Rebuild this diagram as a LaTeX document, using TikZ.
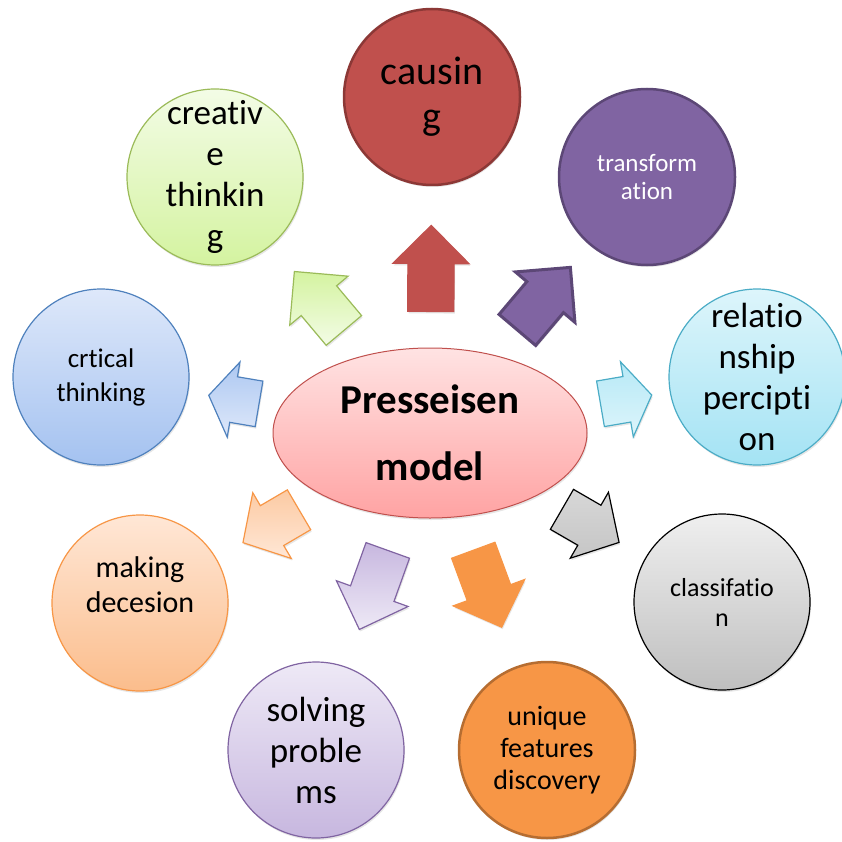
\documentclass[tikz,border=0pt]{standalone}
\usepackage{fontspec}
\setmainfont{Carlito}[RawFeature={-liga;-clig;-calt;-dlig}]
\usetikzlibrary{shapes.geometric,shapes.arrows,shadows}

\definecolor{modeltop}{HTML}{FFE3E3}
\definecolor{modelbot}{HTML}{FFA3A3}
\definecolor{modelline}{HTML}{C0504D}
\definecolor{causingred}{HTML}{C0504D}
\definecolor{causingline}{HTML}{8C3836}
\definecolor{transpurple}{HTML}{8064A2}
\definecolor{transline}{HTML}{5C4776}
\definecolor{reltop}{HTML}{DDF5FB}
\definecolor{relbot}{HTML}{A4E3F4}
\definecolor{relline}{HTML}{4BACC6}
\definecolor{classtop}{HTML}{EFEFEF}
\definecolor{classbot}{HTML}{BFBFBF}
\definecolor{uniqueorange}{HTML}{F79646}
\definecolor{uniqueline}{HTML}{B66D31}
\definecolor{solvtop}{HTML}{EEE9F6}
\definecolor{solvbot}{HTML}{C7B7DF}
\definecolor{maketop}{HTML}{FFE7D6}
\definecolor{makebot}{HTML}{FBBD8C}
\definecolor{crittop}{HTML}{DEE8FA}
\definecolor{critbot}{HTML}{A4C2F0}
\definecolor{critline}{HTML}{4F81BD}
\definecolor{creatop}{HTML}{F3FCE6}
\definecolor{creabot}{HTML}{D4F3A0}
\definecolor{crealine}{HTML}{9BBB59}

\tikzset{
  thinkcircle/.style={circle, minimum size=176pt, inner sep=0pt, line width=1.2pt,
    drop shadow={opacity=.2, shadow xshift=1pt, shadow yshift=-2pt}},
  circletext/.style={align=center, inner sep=0pt},
  thinkarrow/.style={single arrow, pos=.22, anchor=tail, sloped, allow upside down,
    inner xsep=0pt, inner ysep=22.5pt, single arrow head extend=15pt,
    single arrow tip angle=90, line width=1.2pt,
    drop shadow={opacity=.2, shadow xshift=1pt, shadow yshift=-2pt}}
}

\begin{document}
\begin{tikzpicture}[x=1pt,y=-1pt]
\useasboundingbox (0,0) rectangle (841,842);

% centre
\node[ellipse, draw=modelline, line width=1pt, top color=modeltop, bottom color=modelbot,
  minimum width=314pt, minimum height=170pt, inner sep=0pt, align=center,
  font=\bfseries\fontsize{41}{67}\selectfont,
  drop shadow={opacity=.2, shadow xshift=1pt, shadow yshift=-2pt}] (model) at (430,433) {Presseisen\\model};

% thinking skills
\node[thinkcircle, draw=causingline, line width=2.5pt, fill=causingred] (causing) at (432,97) {};
\node[circletext, font=\fontsize{40}{45}\selectfont] (causing-txt) at (causing) {causin\\g};

\node[thinkcircle, draw=transline, line width=2.5pt, fill=transpurple] (transform) at (647,177) {};
\node[circletext, text=white, font=\fontsize{25}{28}\selectfont] (transform-txt) at (transform) {transform\\ation};

\node[thinkcircle, draw=relline, top color=reltop, bottom color=relbot] (relation) at (757,377) {};
\node[circletext, font=\fontsize{35}{41}\selectfont] (relation-txt) at (relation) {relatio\\nship\\percipti\\on};

\node[thinkcircle, draw=black, top color=classtop, bottom color=classbot] (classif) at (722,602) {};
\node[circletext, font=\fontsize{26}{30}\selectfont] (classif-txt) at (classif) {classifatio\\n};

\node[thinkcircle, draw=uniqueline, line width=2.5pt, fill=uniqueorange] (unique) at (547,750) {};
\node[circletext, font=\fontsize{28}{32}\selectfont] (unique-txt) at (unique) {unique\\features\\discovery};

\node[thinkcircle, draw=transpurple, top color=solvtop, bottom color=solvbot] (solving) at (316,750) {};
\node[circletext, font=\fontsize{35}{41}\selectfont] (solving-txt) at (solving) {solving\\proble\\ms};

\node[thinkcircle, draw=uniqueorange, top color=maketop, bottom color=makebot] (making) at (140,603) {};
\node[circletext, font=\fontsize{30}{35}\selectfont] (making-txt) at (140,585) {making\\decesion};

\node[thinkcircle, draw=critline, top color=crittop, bottom color=critbot] (critical) at (101,377) {};
\node[circletext, font=\fontsize{27}{34}\selectfont] (critical-txt) at (critical) {crtical\\thinking};

\node[thinkcircle, draw=crealine, top color=creatop, bottom color=creabot] (creative) at (215,177) {};
\node[circletext, font=\fontsize{35}{41}\selectfont] (creative-txt) at (creative) {creativ\\e\\thinkin\\g};

% arrows from the model to each skill
\path (model) -- (causing) node[thinkarrow, minimum height=86pt, fill=causingred, draw=causingred] (to-causing) {};
\path (model) -- (transform) node[thinkarrow, minimum height=82pt, fill=transpurple, draw=transline, line width=3pt] (to-transform) {};
\path (model) -- (relation) node[thinkarrow, minimum height=52pt, single arrow tip angle=113, top color=relbot!80!white, bottom color=reltop, draw=relline] (to-relation) {};
\path (model) -- (classif) node[thinkarrow, minimum height=66pt, single arrow tip angle=96, top color=classtop!90!black, bottom color=classbot!90!white, draw=black] (to-classif) {};
\path (model) -- (unique) node[thinkarrow, minimum height=82pt, single arrow tip angle=92, fill=uniqueorange, draw=uniqueorange] (to-unique) {};
\path (model) -- (solving) node[thinkarrow, minimum height=84pt, top color=solvbot, bottom color=solvtop, draw=transpurple] (to-solving) {};
\path (model) -- (making) node[thinkarrow, minimum height=65pt, single arrow tip angle=97, top color=makebot!80!white, bottom color=maketop, draw=uniqueorange] (to-making) {};
\path (model) -- (critical) node[thinkarrow, minimum height=51pt, single arrow tip angle=113, top color=critbot!90!white, bottom color=crittop, draw=critline] (to-critical) {};
\path (model) -- (creative) node[thinkarrow, minimum height=77pt, top color=creabot, bottom color=creatop, draw=crealine] (to-creative) {};
\end{tikzpicture}
\end{document}
